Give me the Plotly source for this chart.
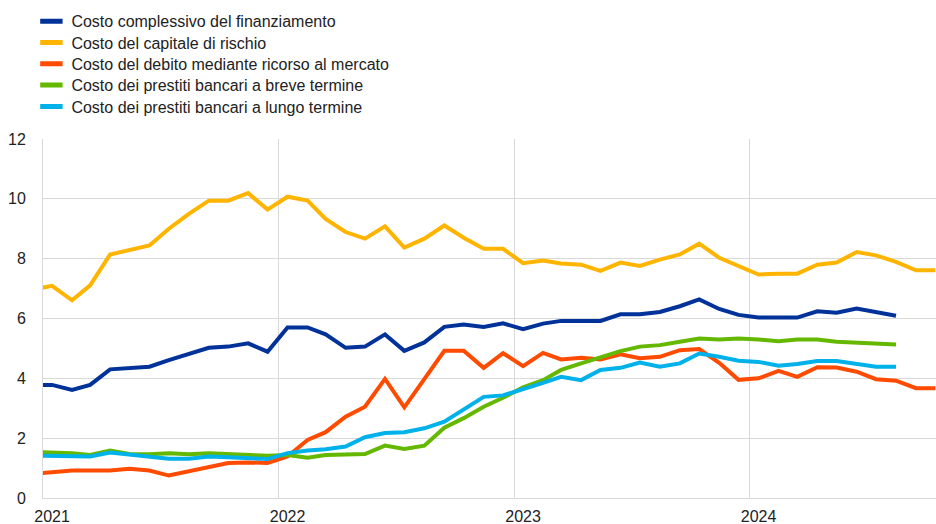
import plotly.graph_objects as go

# Monthly observations, Dec 2020 onwards (plotted mid-month)
start_year, start_month = 2020, 12

costo_complessivo = [3.78,
    3.78, 3.61, 3.78, 4.30, 4.33, 4.39, 4.61, 4.83, 5.02, 5.06, 5.17, 4.89,
    5.70, 5.70, 5.47, 5.02, 5.06, 5.47, 4.92, 5.20, 5.72, 5.80, 5.72, 5.84,
    5.64, 5.83, 5.92, 5.92, 5.92, 6.14, 6.14, 6.22, 6.41, 6.64, 6.32, 6.12,
    6.03, 6.03, 6.03, 6.24, 6.19, 6.33, 6.22, 6.09]

costo_capitale = [6.96,
    7.09, 6.61, 7.11, 8.14, 8.28, 8.44, 9.00, 9.50, 9.94, 9.94, 10.19, 9.64,
    10.07, 9.94, 9.33, 8.89, 8.67, 9.08, 8.37, 8.67, 9.11, 8.70, 8.33, 8.33,
    7.85, 7.94, 7.84, 7.80, 7.59, 7.87, 7.76, 7.97, 8.14, 8.50, 8.03, 7.74,
    7.47, 7.50, 7.50, 7.80, 7.87, 8.22, 8.11, 7.89, 7.61, 7.61]

costo_debito = [0.80,
    0.86, 0.92, 0.92, 0.92, 0.98, 0.92, 0.75, 0.89, 1.05, 1.17, 1.19, 1.17,
    1.39, 1.94, 2.20, 2.72, 3.05, 3.98, 3.03, 3.97, 4.92, 4.92, 4.35, 4.84,
    4.41, 4.85, 4.63, 4.69, 4.63, 4.80, 4.67, 4.72, 4.94, 4.98, 4.52, 3.95,
    4.00, 4.25, 4.05, 4.37, 4.36, 4.22, 3.97, 3.92, 3.67, 3.67]

prestiti_breve = [1.54,
    1.52, 1.50, 1.44, 1.59, 1.47, 1.46, 1.50, 1.46, 1.50, 1.46, 1.44, 1.41,
    1.44, 1.35, 1.44, 1.47, 1.47, 1.75, 1.64, 1.75, 2.35, 2.67, 3.05, 3.35,
    3.70, 3.94, 4.28, 4.50, 4.70, 4.91, 5.06, 5.11, 5.22, 5.33, 5.30, 5.33,
    5.30, 5.24, 5.30, 5.30, 5.22, 5.19, 5.19, 5.13]

prestiti_lungo = [1.42,
    1.42, 1.39, 1.39, 1.52, 1.44, 1.39, 1.31, 1.31, 1.39, 1.36, 1.33, 1.30,
    1.50, 1.59, 1.63, 1.72, 2.03, 2.17, 2.20, 2.33, 2.55, 2.94, 3.38, 3.43,
    3.63, 3.85, 4.05, 3.94, 4.28, 4.35, 4.53, 4.39, 4.50, 4.83, 4.72, 4.59,
    4.55, 4.42, 4.48, 4.58, 4.58, 4.50, 4.39, 4.39]

series_names = [
    "Costo complessivo del finanziamento",
    "Costo del capitale di rischio",
    "Costo del debito mediante ricorso al mercato",
    "Costo dei prestiti bancari a breve termine",
    "Costo dei prestiti bancari a lungo termine",
]
series_values = [costo_complessivo, costo_capitale, costo_debito,
                 prestiti_breve, prestiti_lungo]
colors = ["#003299", "#FFB400", "#FF4B00", "#65B800", "#00B1EA"]

year_ticks = ["2021", "2022", "2023", "2024"]
y_ticks = [0, 2, 4, 6, 8, 10, 12]


def month_dates(n):
    out = []
    y, m = start_year, start_month
    for _ in range(n):
        out.append(f"{y}-{m:02d}-15")
        m += 1
        if m > 12:
            m = 1
            y += 1
    return out


W, H = 936, 524
font_family = "Arial, Liberation Sans, sans-serif"
grid_col = "#D9D9D9"
text_col = "#222222"

fig = go.Figure()
for name, vals, col in zip(series_names, series_values, colors):
    fig.add_trace(go.Scatter(
        x=month_dates(len(vals)), y=vals, mode="lines", name=name,
        line=dict(color=col, width=4), showlegend=False,
        hoverinfo="x+y"))

# legend entries (short thick bars like the original), one legend per row
legend_ids = ["legend", "legend2", "legend3", "legend4", "legend5"]
row_centers = [21.3, 42.6, 63.9, 85.2, 106.5]
legend_layout = {}
for name, col, lid, yc in zip(series_names, colors, legend_ids, row_centers):
    fig.add_trace(go.Scatter(
        x=[None], y=[None], mode="markers", name=name, legend=lid,
        marker=dict(symbol="line-ew", size=17, color=col,
                    line=dict(color=col, width=5)),
        showlegend=True))
    legend_layout[lid] = dict(
        x=-0.013, xanchor="left", yref="container", y=1 - yc / H,
        yanchor="middle", bgcolor="rgba(0,0,0,0)", borderwidth=0,
        font=dict(family=font_family, size=16, color=text_col),
        itemsizing="trace",
    )

fig.update_layout(
    width=W, height=H,
    margin=dict(l=43, r=0, t=139, b=26, autoexpand=False),
    paper_bgcolor="white", plot_bgcolor="white",
    font=dict(family=font_family, size=16, color=text_col),
    xaxis=dict(
        type="date",
        range=["2021-01-01", "2024-10-16"],
        automargin=False,
        tickmode="array",
        tickvals=[f"{y}-01-15" for y in year_ticks],
        ticktext=year_ticks,
        showgrid=False,
        ticks="",
        ticklabelstandoff=4,
        showline=True, linecolor=grid_col, linewidth=1,
        zeroline=False,
        tickfont=dict(size=16, color=text_col),
        minor=dict(
            tickmode="array",
            tickvals=[f"{y}-01-01" for y in year_ticks],
            showgrid=True, gridcolor=grid_col, gridwidth=1,
            ticks="",
        ),
    ),
    yaxis=dict(
        range=[0, 12],
        automargin=False,
        tickmode="array",
        tickvals=y_ticks,
        ticktext=[str(v) for v in y_ticks],
        showgrid=True, gridcolor=grid_col, gridwidth=1,
        showline=True, linecolor=grid_col, linewidth=1,
        zeroline=False,
        ticks="",
        ticklabelstandoff=13,
        tickfont=dict(size=16, color=text_col),
    ),
    **legend_layout,
)

fig.write_html(
    "out.html",
    config={"displayModeBar": False},
    post_script="document.body.style.margin='0';"
                "document.body.style.overflow='hidden';",
)
